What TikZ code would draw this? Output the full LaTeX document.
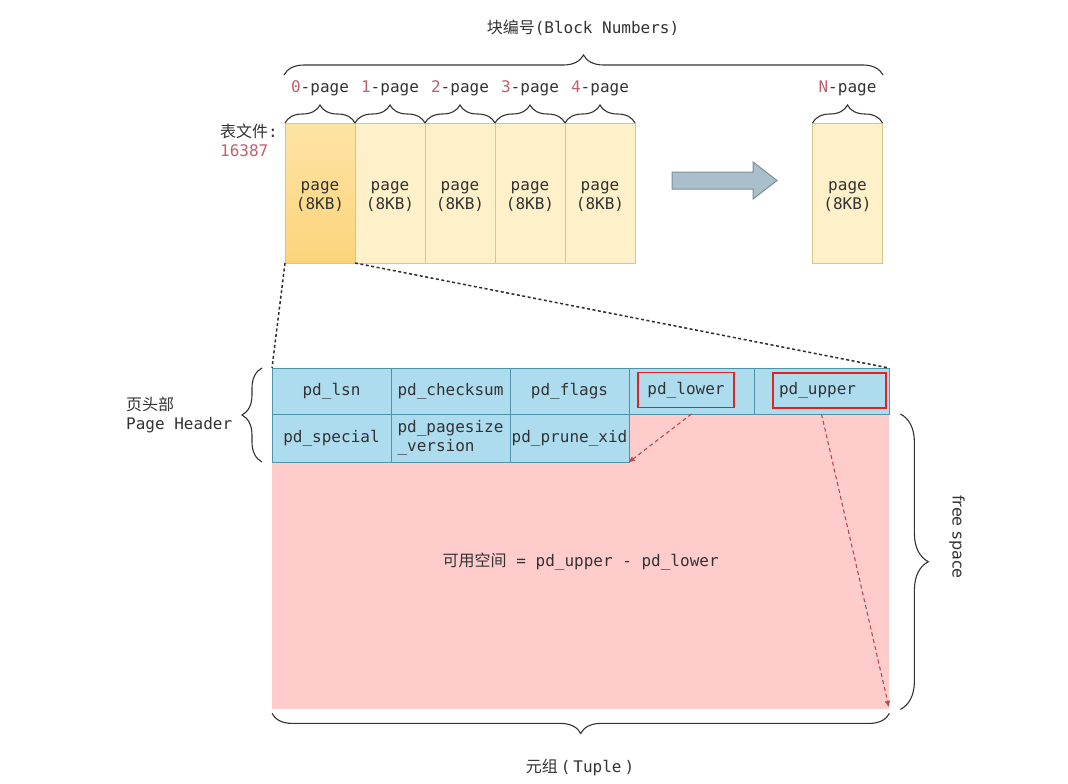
\documentclass[tikz,border=0pt]{standalone}
\usepackage{fontspec}
\setmainfont{DejaVu Sans Mono}
\newfontfamily\cjk{Noto Sans CJK SC}
\newfontfamily\sanstext{DejaVu Sans}
\usepackage{tikz}
\usetikzlibrary{arrows,shapes,positioning,decorations.pathreplacing}
\definecolor{txtgray}{HTML}{333333}
\definecolor{numred}{HTML}{C0606A}
\definecolor{pagefill}{HTML}{FEF0C8}
\definecolor{pageline}{HTML}{D9C585}
\definecolor{page0top}{HTML}{FDE4A4}
\definecolor{page0bot}{HTML}{FCD47C}
\definecolor{cellfill}{HTML}{ADDCEF}
\definecolor{cellline}{HTML}{4F93A8}
\definecolor{pinkfill}{HTML}{FFCCCC}
\definecolor{boxred}{HTML}{E02222}
\definecolor{ptrred}{HTML}{B84A4A}
\definecolor{arrfill}{HTML}{A9C0CC}
\definecolor{arrline}{HTML}{7A8E99}
\tikzset{
	txt/.style = {font=\fontsize{16}{19}\selectfont, text=txtgray, inner sep=0pt, align=center},
	pg/.style = {rectangle, draw=pageline, fill=pagefill, minimum width=70pt, minimum height=140pt, inner sep=0pt, outer sep=0pt,
		label={[txt, yshift=-4pt]center:{page\\(8KB)}}},
	pg0/.style = {pg, top color=page0top, bottom color=page0bot},
	cell/.style = {txt, rectangle, draw=cellline, fill=cellfill, minimum width=119pt, minimum height=46pt, outer sep=0pt, line width=1pt},
	redbox/.style = {txt, rectangle, draw=boxred, line width=1.1pt, minimum height=35pt, inner xsep=6pt},
	brc/.style = {decorate, decoration={brace, amplitude=#1}, draw=txtgray, line width=1.1pt},
	brc/.default = 18pt,
	zoomline/.style = {draw=txtgray!90!black, line width=1.5pt, dash pattern=on 3pt off 2.5pt},
	ptr/.style = {->, >=stealth', draw=ptrred, line width=1.1pt, dash pattern=on 4pt off 3pt},
	bigarrow/.style = {draw=arrline, fill=arrfill, line width=1pt}
}
\begin{document}
\begin{tikzpicture}[x=1pt, y=-1pt]
\fill[white] (0,0) rectangle (1068,784);
\useasboundingbox (0,0) rectangle (1068,784);

% table file pages
\node[pg0] (p0) at (320,193) {};
\foreach \i [remember=\i as \j (initially 0)] in {1,...,4}
	\node[pg, right=0pt of p\j] (p\i) {};
\node[pg] (pN) at (847.5,193) {};
\foreach \i in {0,...,4} {
	\node[txt, above=27pt of p\i] (l\i) {\textcolor{numred}{\i}-page};
	\draw[brc] (p\i.north west) -- (p\i.north east);
}
\node[txt, above=27pt of pN] (lN) {\textcolor{numred}{N}-page};
\draw[brc] (pN.north west) -- (pN.north east);

\coordinate (bl) at (284,75);
\coordinate (br) at (883,75);
\draw[brc=20pt] (bl) -- (br);
\node[txt] (blk) at (583,28) {{\cjk 块编号}(Block Numbers)};
\node[txt, anchor=west, align=left] (tbl) at (220,140) {{\cjk 表文件}:\\\textcolor{numred}{16387}};

\draw[bigarrow] (672,172) -- (753,172) -- (753,162) -- (777,180.5) -- (753,199) -- (753,189) -- (672,189) -- cycle;

% page layout
\node[txt, fill=pinkfill, minimum width=617pt, minimum height=295pt, anchor=north west] (free) at (272,414) {{\cjk 可用空间} = pd\_upper - pd\_lower};
\node[cell] (lsn) at (331.5,391) {pd\_lsn};
\node[cell, right=0pt of lsn] (chk) {pd\_checksum};
\node[cell, right=0pt of chk] (flg) {pd\_flags};
\node[cell, minimum width=125pt, right=0pt of flg] (low) {};
\node[cell, minimum width=135pt, right=0pt of low] (upp) {};
\node[cell, minimum height=48pt, below=0pt of lsn] (spc) {pd\_special};
\node[cell, minimum height=48pt, align=left, right=0pt of spc] (psz) {pd\_pagesize\\\_version};
\node[cell, minimum height=48pt, right=0pt of psz] (prn) {pd\_prune\_xid};
\node[redbox, minimum width=96pt] (lowtxt) at (686,390) {pd\_lower};
\node[redbox, text width=101pt, align=left] (upptxt) at (829.5,390.5) {pd\_upper};

\draw[zoomline] (p0.south west) -- (lsn.north west);
\draw[zoomline] (p0.south east) -- (upp.north east);
\draw[ptr] (low.south) -- (prn.south east);
\draw[ptr, shorten >=3pt] (upp.south) -- (free.south east);

\draw[brc=20pt] ([xshift=-10pt]spc.south west) -- ([xshift=-10pt]lsn.north west);
\node[txt, anchor=west, align=left] (hdr) at (126,415) {{\cjk 页头部}\\Page Header};
\draw[brc=28pt] ([xshift=11pt]free.north east) -- ([xshift=11pt]free.south east);
\node[txt, font=\fontsize{16}{19}\selectfont\sanstext, rotate=-90] (fsp) at (957,537) {free space};
\draw[brc=20pt] ([yshift=-4pt]free.south east) -- ([yshift=-4pt]free.south west);
\node[txt] (tup) at (580,767) {{\cjk 元组}\hspace{3pt}(\hspace{3pt}Tuple\hspace{3pt})};
\end{tikzpicture}
\end{document}
